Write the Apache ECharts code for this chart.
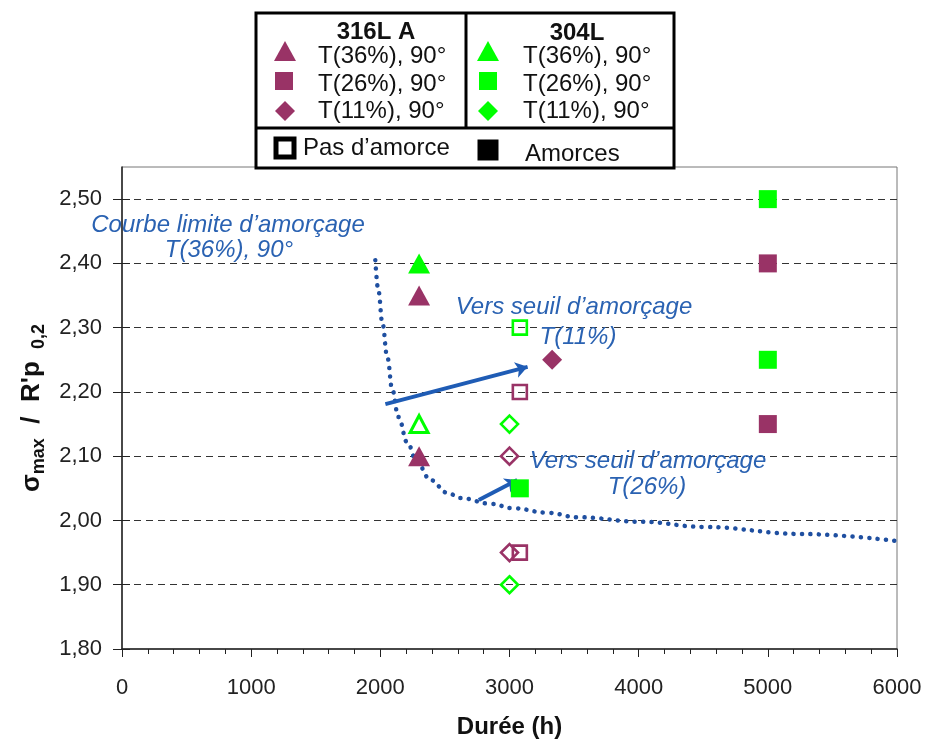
<!DOCTYPE html>
<html><head><meta charset="utf-8">
<script src="https://cdn.jsdelivr.net/npm/echarts@6/dist/echarts.min.js"></script>
<style>html,body{margin:0;padding:0;background:#fff}#c{width:925px;height:740px}</style>
</head><body><div id="c"></div>
<script>
// ---- data ----
const xTicks = [0, 1000, 2000, 3000, 4000, 5000, 6000];
const yTicks = [1.8, 1.9, 2.0, 2.1, 2.2, 2.3, 2.4, 2.5];
// 316L A (purple)
const p316TriFilled = [[2300, 2.35], [2300, 2.10]];
const p316SqFilled = [[5000, 2.40], [5000, 2.15]];
const p316DiaFilled = [[3330, 2.25]];
const p316SqOpen = [[3080, 2.20], [3080, 1.95]];
const p316DiaOpen = [[3000, 2.10], [3000, 1.95]];
// 304L (green)
const g304TriFilled = [[2300, 2.40]];
const g304TriOpen = [[2300, 2.15]];
const g304SqFilled = [[5000, 2.50], [5000, 2.25], [3080, 2.05]];
const g304SqOpen = [[3080, 2.30]];
const g304DiaOpen = [[3000, 2.15], [3000, 1.90]];
// Courbe limite d'amorçage T(36%), 90°
const curve = [[1961, 2.405], [1984, 2.359], [2016, 2.307], [2054, 2.254], [2093, 2.203], [2140, 2.161],
  [2209, 2.121], [2287, 2.089], [2388, 2.063], [2519, 2.043], [2620, 2.035], [2853, 2.026],
  [3031, 2.019], [3295, 2.012], [3527, 2.005], [4016, 1.998], [4504, 1.990], [5256, 1.979], [6000, 1.968]];
// arrows
const arrow11 = [[2039, 2.181], [3140, 2.239]];
const arrow26 = [[2762, 2.032], [3060, 2.063]];

const PURPLE = '#993366', GREEN = '#00FF00', FONT = 'Liberation Sans, Arial, sans-serif';
const BLUE_T = '#2A62B2';

function filled(name, data, symbol, size, color) {
  return { type: 'scatter', name, data, symbol, symbolSize: size, z: 5,
    itemStyle: { color, opacity: 1 } };
}
function open(name, data, symbol, size, color, lw) {
  return { type: 'scatter', name, data, symbol, symbolSize: size, z: 5,
    itemStyle: { color: 'rgba(255,255,255,0)', borderColor: color, borderWidth: lw, opacity: 1 } };
}

const chart = echarts.init(document.getElementById('c'), null, { renderer: 'canvas' });

// legend box graphics
const L = 256, R = 674, T = 13, B = 168, MIDX = 466, MIDY = 128;
const legendG = [
  { type: 'rect', shape: { x: L, y: T, width: R - L, height: B - T }, style: { fill: '#fff', stroke: '#000', lineWidth: 3 }, z: 10 },
  { type: 'line', shape: { x1: MIDX, y1: T, x2: MIDX, y2: MIDY }, style: { stroke: '#000', lineWidth: 3 }, z: 11 },
  { type: 'line', shape: { x1: L, y1: MIDY, x2: R, y2: MIDY }, style: { stroke: '#000', lineWidth: 3 }, z: 11 },
];
function ltext(x, y, text, opts) {
  legendG.push({ type: 'text', x, y, z: 12, style: Object.assign({ text, fill: '#111', font: '24px ' + FONT, textAlign: 'left', textVerticalAlign: 'middle' }, opts || {}) });
}
function ltri(cx, cy, color) {
  legendG.push({ type: 'polygon', z: 12, shape: { points: [[cx, cy - 10], [cx + 11, cy + 10], [cx - 11, cy + 10]] }, style: { fill: color } });
}
function lsq(cx, cy, color, s) {
  legendG.push({ type: 'rect', z: 12, shape: { x: cx - s / 2, y: cy - s / 2, width: s, height: s }, style: { fill: color } });
}
function ldia(cx, cy, color) {
  legendG.push({ type: 'polygon', z: 12, shape: { points: [[cx, cy - 10], [cx + 10, cy], [cx, cy + 10], [cx - 10, cy]] }, style: { fill: color } });
}
ltext(376, 32, '316L A', { font: 'bold 24px ' + FONT, textAlign: 'center' });
ltext(577, 33, '304L', { font: 'bold 24px ' + FONT, textAlign: 'center' });
ltri(285, 51, PURPLE); lsq(284, 81, PURPLE, 18); ldia(285, 111, PURPLE);
ltri(488, 51, GREEN); lsq(488, 81, GREEN, 18); ldia(488, 111, GREEN);
ltext(318, 56, 'T(36%), 90°'); ltext(318, 84, 'T(26%), 90°'); ltext(318, 111, 'T(11%), 90°');
ltext(523, 56, 'T(36%), 90°'); ltext(523, 84, 'T(26%), 90°'); ltext(523, 111, 'T(11%), 90°');
legendG.push({ type: 'rect', z: 12, shape: { x: 276, y: 139, width: 18, height: 18 }, style: { fill: '#fff', stroke: '#000', lineWidth: 5 } });
ltext(303, 148, 'Pas d’amorce');
lsq(488, 150, '#000', 21);
ltext(525, 154, 'Amorces');

// annotations
function atext(x, y, text) {
  legendG.push({ type: 'text', x, y, z: 8, style: { text, fill: BLUE_T, font: 'italic 24px ' + FONT, textAlign: 'center', textVerticalAlign: 'middle' } });
}
atext(228, 225, 'Courbe limite d’amorçage');
atext(229, 250, 'T(36%), 90°');
atext(574, 307, 'Vers seuil d’amorçage');
atext(578, 337, 'T(11%)');
atext(648, 461, 'Vers seuil d’amorçage');
atext(647, 487, 'T(26%)');

const yFmt = v => (v > 2.501 ? '' : v.toFixed(2).replace('.', ','));

const option = {
  animation: false,
  backgroundColor: '#fff',
  grid: { left: 122, right: 28, top: 167, bottom: 91, show: true, borderColor: '#777', borderWidth: 1,
    backgroundColor: 'transparent', containLabel: false, outerBoundsMode: 'none' },
  xAxis: {
    type: 'value', min: xTicks[0], max: xTicks[xTicks.length - 1], interval: 1000,
    name: 'Durée (h)', nameLocation: 'middle', nameGap: 66,
    nameTextStyle: { fontFamily: FONT, fontSize: 24, fontWeight: 'bold', color: '#111' },
    axisLine: { lineStyle: { color: '#222', width: 1.5 } },
    axisTick: { length: 8, lineStyle: { color: '#222' } },
    minorTick: { show: true, splitNumber: 5, length: 5, lineStyle: { color: '#222' } },
    axisLabel: { fontFamily: FONT, fontSize: 22, color: '#222', margin: 28, formatter: v => String(v) },
    splitLine: { show: false }
  },
  yAxis: [{
    type: 'value', min: yTicks[0], max: 2.55, interval: 0.1,
    name: '{a|σ}{s|max}{a|  /  R\'p }{s| 0,2}', nameLocation: 'middle', nameGap: 72, nameRotate: 90,
    nameTextStyle: { rich: {
      a: { fontFamily: FONT, fontSize: 26, fontWeight: 'bold', color: '#111', lineHeight: 32, verticalAlign: 'middle' },
      s: { fontFamily: FONT, fontSize: 18, fontWeight: 'bold', color: '#111', lineHeight: 32, verticalAlign: 'bottom', padding: [8, 0, 0, 0] }
    } },
    axisLine: { lineStyle: { color: '#222', width: 1.5 } },
    axisTick: { length: 9, lineStyle: { color: '#222' }, customValues: yTicks },
    axisLabel: { fontFamily: FONT, fontSize: 22, color: '#222', margin: 20, formatter: yFmt },
    splitLine: { show: true, showMinLine: false, lineStyle: { color: '#333', type: [7, 5], width: 1 } }
  }, {
    type: 'value', min: yTicks[0], max: 2.55, interval: 0.1, position: 'left',
    axisLine: { show: false }, axisLabel: { show: false }, splitLine: { show: false },
    axisTick: { inside: true, length: 8, lineStyle: { color: '#222' }, customValues: yTicks }
  }],
  graphic: legendG,
  series: [
    { type: 'line', name: 'Courbe limite', data: curve, showSymbol: false, smooth: 0.4, smoothMonotone: 'x', z: 3,
      lineStyle: { color: '#1F4FA0', width: 4.5, type: [0.1, 8.3], cap: 'round' } },
    { type: 'lines', coordinateSystem: 'cartesian2d', z: 4, symbol: ['none', 'arrow'], symbolSize: 12,
      lineStyle: { color: '#1F5CB5', width: 4, opacity: 1 },
      data: [{ coords: arrow11 }, { coords: arrow26 }] },
    open('316L A T(26%) pas', p316SqOpen, 'rect', 14, PURPLE, 2.6),
    open('316L A T(11%) pas', p316DiaOpen, 'diamond', 17, PURPLE, 2.6),
    filled('316L A T(36%)', p316TriFilled, 'triangle', [22, 20], PURPLE),
    filled('316L A T(26%)', p316SqFilled, 'rect', 18, PURPLE),
    filled('316L A T(11%)', p316DiaFilled, 'diamond', 20, PURPLE),
    filled('304L T(36%)', g304TriFilled, 'triangle', [22, 20], GREEN),
    open('304L T(36%) pas', g304TriOpen, 'triangle', [18, 17], GREEN, 3),
    filled('304L T(26%)', g304SqFilled, 'rect', 18, GREEN),
    open('304L T(26%) pas', g304SqOpen, 'rect', 14, GREEN, 2.6),
    open('304L T(11%) pas', g304DiaOpen, 'diamond', 17, GREEN, 2.6)
  ]
};
chart.setOption(option);
</script></body></html>
